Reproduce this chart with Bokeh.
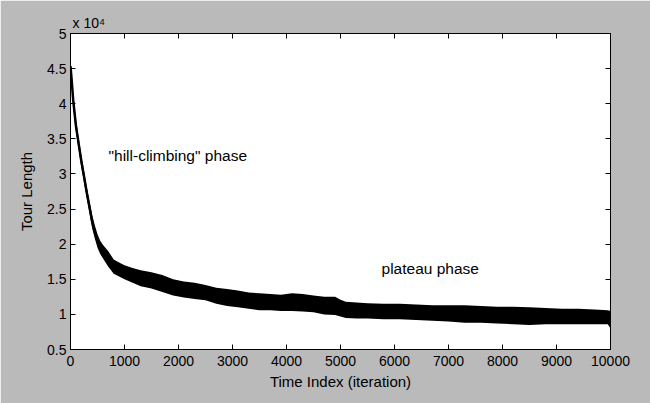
from bokeh.plotting import figure
from bokeh.models import (FixedTicker, CustomJSTickFormatter, LinearAxis, Label,
                          ColumnDataSource, Title)
from bokeh.embed import file_html
from bokeh.resources import INLINE

# ---- data (tour length, in units of 10^4) ----
iteration = [0, 20, 50, 100, 150, 200, 250, 300, 350, 400, 450, 500, 550, 600, 700,
             800, 900, 1000, 1150, 1300, 1500, 1700, 1900, 2100, 2300, 2500, 2700,
             2900, 3100, 3300, 3500, 3700, 3900, 4100, 4300, 4500, 4700, 4900, 5000,
             5100, 5300, 5500, 5800, 6100, 6400, 6700, 7000, 7300, 7600, 7900, 8200,
             8500, 8800, 9100, 9400, 9700, 9950, 10000]
upper_e4 = [4.62, 4.45, 4.15, 3.78, 3.52, 3.27, 3.05, 2.82, 2.62, 2.42, 2.27, 2.14,
            2.05, 1.99, 1.90, 1.78, 1.74, 1.70, 1.66, 1.63, 1.60, 1.56, 1.50, 1.47,
            1.45, 1.42, 1.38, 1.36, 1.34, 1.31, 1.30, 1.29, 1.28, 1.30, 1.29, 1.27,
            1.25, 1.25, 1.21, 1.18, 1.17, 1.16, 1.15, 1.15, 1.14, 1.13, 1.13, 1.13,
            1.12, 1.11, 1.11, 1.10, 1.09, 1.08, 1.08, 1.07, 1.06, 1.05]
lower_e4 = [4.45, 4.25, 3.95, 3.60, 3.35, 3.10, 2.88, 2.66, 2.45, 2.23, 2.08, 1.95,
            1.86, 1.80, 1.68, 1.58, 1.54, 1.50, 1.45, 1.40, 1.37, 1.32, 1.27, 1.24,
            1.22, 1.20, 1.15, 1.12, 1.10, 1.08, 1.06, 1.06, 1.05, 1.05, 1.04, 1.03,
            1.00, 0.99, 0.97, 0.95, 0.94, 0.94, 0.93, 0.93, 0.92, 0.91, 0.90, 0.88,
            0.88, 0.87, 0.86, 0.85, 0.86, 0.86, 0.86, 0.86, 0.86, 0.80]

x_ticks = [0, 1000, 2000, 3000, 4000, 5000, 6000, 7000, 8000, 9000, 10000]
y_ticks_e4 = [0.5, 1, 1.5, 2, 2.5, 3, 3.5, 4, 4.5, 5]

SCALE = 10000
upper = [v * SCALE for v in upper_e4]
lower = [v * SCALE for v in lower_e4]
center = [(a + b) / 2 for a, b in zip(upper, lower)]
y_ticks = [v * SCALE for v in y_ticks_e4]

FONT = "Liberation Sans"
BG = "#bababa"

p = figure(width=650, height=403, output_backend="svg", toolbar_location=None,
           x_range=(0, 10000), y_range=(5000, 50000),
           min_border_left=70, min_border_right=40, min_border_top=33,
           min_border_bottom=54)
p.border_fill_color = BG
p.background_fill_color = "white"
p.outline_line_color = "black"
p.outline_line_width = 1
p.grid.visible = False

src = ColumnDataSource(dict(x=iteration, up=upper, lo=lower, c=center))
p.varea(x="x", y1="lo", y2="up", source=src, fill_color="black")
p.line(x="x", y="c", source=src, line_color="black", line_width=2.5)

fmt = CustomJSTickFormatter(code="return (tick/10000).toString();")
blank = CustomJSTickFormatter(code="return '';")

def style_axis(ax):
    ax.major_tick_in = 5
    ax.major_tick_out = 0
    ax.minor_tick_in = 0
    ax.minor_tick_out = 0
    ax.axis_line_color = "black"
    ax.major_tick_line_color = "black"
    ax.major_label_text_font = FONT
    ax.major_label_text_color = "black"
    ax.major_label_text_font_size = "14px"
    ax.axis_label_text_font = FONT
    ax.axis_label_text_font_size = "15px"
    ax.axis_label_text_font_style = "normal"
    ax.axis_label_text_color = "black"

xa = p.xaxis[0]
xa.ticker = FixedTicker(ticks=x_ticks)
xa.axis_label = "Time Index (iteration)"
style_axis(xa)
xa.major_label_standoff = 6
xa.axis_label_standoff = 4

ya = p.yaxis[0]
ya.ticker = FixedTicker(ticks=y_ticks)
ya.formatter = fmt
ya.axis_label = "Tour Length"
style_axis(ya)
ya.major_label_standoff = 4
ya.axis_label_standoff = 9

top = LinearAxis(ticker=FixedTicker(ticks=x_ticks), formatter=blank)
style_axis(top)
top.major_label_standoff = 0
p.add_layout(top, "above")
right = LinearAxis(ticker=FixedTicker(ticks=y_ticks), formatter=blank)
style_axis(right)
right.major_label_standoff = 0
p.add_layout(right, "right")

# exponent marker above the axes
p.add_layout(Title(text="x 10\u2074", align="left", offset=2, standoff=5,
                   text_font=FONT, text_font_size="14px",
                   text_font_style="normal", text_color="black"), "above")

# annotations
p.add_layout(Label(x=704, y=32600, text='"hill-climbing" phase', text_font=FONT,
                   text_font_size="15.5px", text_color="black",
                   text_baseline="middle"))
p.add_layout(Label(x=5760, y=16500, text="plateau phase", text_font=FONT,
                   text_font_size="15.5px", text_color="black",
                   text_baseline="middle"))

open("out.html", "w").write(file_html(p, INLINE))
